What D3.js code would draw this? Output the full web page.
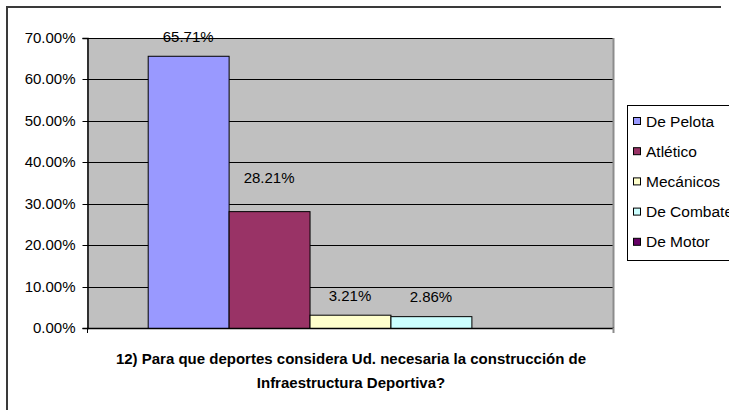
<!DOCTYPE html>
<html>
<head>
<meta charset="utf-8">
<script src="https://cdn.jsdelivr.net/npm/d3@7"></script>
<style>
  html, body { margin: 0; padding: 0; background: #ffffff; }
  svg { display: block; }
  text { font-family: "Liberation Sans", Arial, sans-serif; fill: #000; }
</style>
</head>
<body>
<script>
// Survey answers: share of respondents per type of sport
const categories = ["De Pelota", "Atlético", "Mecánicos", "De Combate", "De Motor"];
const values = [65.71, 28.21, 3.21, 2.86, null];
const colors = ["#9999FF", "#993366", "#FFFFCC", "#CCFFFF", "#660066"];
const yTicks = [0, 10, 20, 30, 40, 50, 60, 70];
const titleLines = [
  "12) Para que deportes considera Ud. necesaria la construcción de",
  "Infraestructura Deportiva?"
];

const W = 729, H = 410;
const plot = { left: 87, top: 38, right: 613, bottom: 328 };

const svg = d3.select("body").append("svg")
  .attr("width", W).attr("height", H);

// chart frame (only top and left edges fall inside the view)
svg.append("path")
  .attr("d", `M7,${H + 5} V7 H721`)
  .attr("fill", "none")
  .attr("stroke", "#3a3a3a")
  .attr("stroke-width", 2);

const y = d3.scaleLinear().domain([0, 70]).range([plot.bottom, plot.top]);

// one category group holding the five series side by side (gap width 150%)
const x = d3.scaleBand()
  .domain(categories)
  .range([plot.left, plot.right])
  .paddingInner(0)
  .paddingOuter(0.75);

// plot background
svg.append("rect")
  .attr("x", plot.left).attr("y", plot.top)
  .attr("width", plot.right - plot.left)
  .attr("height", plot.bottom - plot.top)
  .attr("fill", "#C0C0C0");

// horizontal gridlines
svg.append("g")
  .selectAll("line")
  .data(yTicks.filter(d => d > 0))
  .join("line")
  .attr("x1", plot.left).attr("x2", plot.right)
  .attr("y1", d => Math.round(y(d)) + 0.5)
  .attr("y2", d => Math.round(y(d)) + 0.5)
  .attr("stroke", "#000")
  .attr("stroke-width", 1);

// plot border, right side
svg.append("line")
  .attr("x1", plot.right + 0.5).attr("x2", plot.right + 0.5)
  .attr("y1", plot.top).attr("y2", plot.bottom)
  .attr("stroke", "#8c8c8c").attr("stroke-width", 2);

// bars
const series = categories.map((c, i) => ({ name: c, value: values[i], color: colors[i] }));
svg.append("g")
  .selectAll("rect")
  .data(series.filter(d => d.value != null))
  .join("rect")
  .attr("x", d => x(d.name) + 0.5)
  .attr("y", d => y(d.value) + 0.5)
  .attr("width", x.bandwidth())
  .attr("height", d => y(0) - y(d.value))
  .attr("fill", d => d.color)
  .attr("stroke", "#000")
  .attr("stroke-width", 1);

// value axis
const yAxis = d3.axisLeft(y)
  .tickValues(yTicks)
  .tickSize(5)
  .tickPadding(7)
  .tickFormat(d => d3.format(".2f")(d) + "%");
const gy = svg.append("g")
  .attr("transform", `translate(${plot.left + 0.5},0)`)
  .call(yAxis);
gy.select(".domain").attr("stroke", "#000").attr("stroke-width", 1.5);
gy.selectAll(".tick line").attr("stroke", "#000");
gy.selectAll(".tick text")
  .attr("font-family", "Liberation Sans, Arial, sans-serif")
  .attr("font-size", 15)
  .attr("fill", "#000");
gy.selectAll(".tick").attr("transform", d => `translate(0,${Math.round(y(d)) + 0.5})`);

// category axis line with end ticks
const xAxisG = svg.append("g");
xAxisG.append("line")
  .attr("x1", plot.left).attr("x2", plot.right + 1)
  .attr("y1", plot.bottom + 0.5).attr("y2", plot.bottom + 0.5)
  .attr("stroke", "#000").attr("stroke-width", 1.5);
xAxisG.selectAll("line.end")
  .data([plot.left, plot.right])
  .join("line")
  .attr("class", "end")
  .attr("x1", d => d + 0.5).attr("x2", d => d + 0.5)
  .attr("y1", plot.bottom).attr("y2", plot.bottom + 5)
  .attr("stroke", (d, i) => i ? "#8c8c8c" : "#000")
  .attr("stroke-width", (d, i) => i ? 2 : 1);

// data labels above the bars; the Atlético label sits one line higher
const raisedLabel = "Atlético";
svg.append("g")
  .selectAll("text")
  .data(series.filter(d => d.value != null))
  .join("text")
  .attr("x", d => x(d.name) + x.bandwidth() / 2)
  .attr("y", d => y(d.value) - (d.name === raisedLabel ? 28 : 14))
  .attr("text-anchor", "middle")
  .attr("font-size", 15)
  .text(d => d3.format(".2f")(d.value) + "%");

// title
svg.append("g")
  .selectAll("text")
  .data(titleLines)
  .join("text")
  .attr("x", 351)
  .attr("y", (d, i) => 364 + i * 24)
  .attr("text-anchor", "middle")
  .attr("font-size", 15)
  .attr("font-weight", "bold")
  .text(d => d);

// legend
const legend = svg.append("g");
legend.append("rect")
  .attr("x", 627.5).attr("y", 105.5)
  .attr("width", 140).attr("height", 155)
  .attr("fill", "#fff")
  .attr("stroke", "#000").attr("stroke-width", 1);
const item = legend.selectAll("g.item")
  .data(series)
  .join("g")
  .attr("class", "item")
  .attr("transform", (d, i) => `translate(0,${121 + i * 30.2})`);
item.append("rect")
  .attr("x", 633.5).attr("y", -3.5)
  .attr("width", 7).attr("height", 7)
  .attr("fill", d => d.color)
  .attr("stroke", "#000").attr("stroke-width", 1);
item.append("text")
  .attr("x", 646)
  .attr("y", 5.5)
  .attr("font-size", 15.5)
  .text(d => d.name);
</script>
</body>
</html>
